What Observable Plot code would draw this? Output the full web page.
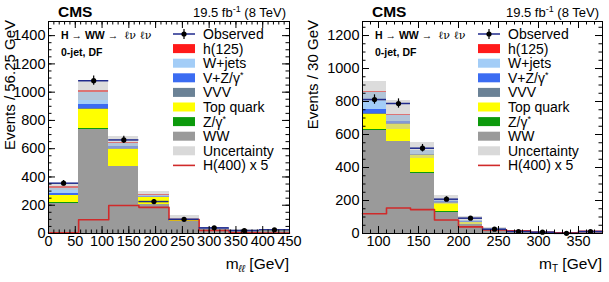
<!DOCTYPE html>
<html><head><meta charset="utf-8">
<script src="https://cdn.jsdelivr.net/npm/d3@7"></script>
<script src="https://cdn.jsdelivr.net/npm/@observablehq/plot@0.6"></script>
<style>
body{margin:0;background:#fff;}
#wrap{position:relative;width:609px;height:282px;overflow:hidden;background:#fff;}
#wrap svg{position:absolute;top:0;}
</style></head><body><div id="wrap"></div>
<script>
// ---------- data ----------
const processes = ["WW", "Z/γ*", "Top quark", "VVV", "V+Z/γ*", "W+jets", "h(125)"]; // stacked bottom -> top
const procColors = ["#9a9a9a", "#0c9a0c", "#ffff00", "#6b8296", "#3b6cf2", "#a3cdf7", "#ff1a1a"];

// left panel: m_ll, 8 bins of 56.25 GeV
const leftBinLo = [0, 56.25, 112.5, 168.75, 225, 281.25, 337.5, 393.75];
const leftBinWidth = 56.25;
const leftWW    = [214, 735, 473, 205, 85, 26, 15, 17];
const leftZ     = [2, 5, 3, 2, 1, 0.5, 0.3, 0.3];
const leftTop   = [50, 134, 116, 45, 12, 4, 2, 2];
const leftVVV   = [5, 8, 6, 3, 1, 0.5, 0.3, 0.3];
const leftVZ    = [14, 30, 15, 7, 3, 1, 1, 1];
const leftWjets = [33, 85, 22, 10, 4, 2, 1.5, 1.5];
const leftH125  = [14, 13, 7, 3, 1, 0.3, 0.2, 0.2];
const leftUnc   = [25, 70, 45, 20, 18, 8, 6, 6];
const leftObs   = [356, 1081, 662, 226, 100, 40, 21, 26];
const leftH400  = [5, 97, 198, 185, 99, 21, 5, 4];

// right panel: m_T, 10 bins of 30 GeV
const rightBinLo = [80, 110, 140, 170, 200, 230, 260, 290, 320, 350];
const rightBinWidth = 30;
const rightWW    = [622, 555, 366, 130, 52, 20, 9, 6, 3, 5];
const rightZ     = [6, 3, 3, 2, 1, 0.5, 0.3, 0.2, 0.1, 0.1];
const rightTop   = [91, 101, 104, 52, 13, 4, 2, 1, 0.5, 1];
const rightVVV   = [8, 5, 3, 2, 1, 0.5, 0.3, 0.2, 0.1, 0.2];
const rightVZ    = [26, 12, 5, 5, 3, 1, 0.5, 0.5, 0.3, 0.5];
const rightWjets = [100, 40, 20, 8, 8, 3, 1.5, 1, 0.5, 1];
const rightH125  = [7, 5, 4, 2, 1, 0.5, 0.2, 0.1, 0.1, 0.1];
const rightUnc   = [60, 88, 48, 28, 25, 8, 5, 4, 3, 4];
const rightObs   = [812, 788, 517, 208, 93, 26, 12, 8, 1, 12];
const rightH400  = [120, 155, 145, 82, 40, 22, 16, 8, 5, 13];

const leftXTicks = [0, 50, 100, 150, 200, 250, 300, 350, 400, 450];
const leftYTicks = [0, 200, 400, 600, 800, 1000, 1200, 1400];
const rightXTicks = [100, 150, 200, 250, 300, 350];
const rightYTicks = [0, 200, 400, 600, 800, 1000, 1200];

const FONT = "'Liberation Sans', Arial, Helvetica, sans-serif";

function panel(cfg) {
  const {binLo, binW, stack, unc, obs, h400, xDomain, yDomain, xTicks, yTicks, width, ml, mr} = cfg;
  const mt = 21, mb = 49, height = 282;
  const H = height - mt - mb, W = width - ml - mr;
  const rects = [];
  binLo.forEach((lo, i) => {
    let base = 0;
    stack.forEach((s, k) => {
      rects.push({x1: lo, x2: lo + binW, y1: base, y2: base + s[i], fill: procColors[k]});
      base += s[i];
    });
  });
  const bins = binLo.map((lo, i) => {
    const tot = stack.reduce((a, s) => a + s[i], 0);
    return {lo, hi: lo + binW, c: lo + binW / 2, tot, unc: unc[i], n: obs[i], h: h400[i]};
  });
  const last = bins[bins.length - 1];
  const step = bins.map(b => ({x: b.lo, y: b.h})).concat([{x: last.hi, y: last.h}]);
  const minorX = d3.range(xDomain[0], xDomain[1] + 1e-6, 10);
  const majorX = minorX.filter(v => v % 50 === 0);
  const minorY = d3.range(yDomain[0], yDomain[1] + 1e-6, 50);
  const majorY = minorY.filter(v => v % 200 === 0);
  const maj = 7, mnr = 3.5;
  const fmt = d3.format("d");
  return Plot.plot({
    width, height, marginLeft: ml, marginRight: mr, marginTop: mt, marginBottom: mb,
    style: {fontFamily: FONT, background: "transparent", overflow: "visible"},
    x: {domain: xDomain},
    y: {domain: yDomain},
    color: {type: "identity"},
    marks: [
      Plot.rect(rects, {x1: "x1", x2: "x2", y1: "y1", y2: "y2", fill: "fill", shapeRendering: "crispEdges"}),
      Plot.rect(bins, {x1: "lo", x2: "hi", y1: d => Math.max(0, d.tot - d.unc), y2: d => d.tot + d.unc, fill: "#c0c0c0", fillOpacity: 0.55, shapeRendering: "crispEdges"}),
      Plot.line(step, {x: "x", y: "y", curve: "step-after", stroke: "#d02a2a", strokeWidth: 1.6}),
      Plot.ruleY(bins, {x1: "lo", x2: "hi", y: "n", stroke: "#1f2a8c", strokeWidth: 1.5}),
      Plot.ruleX(bins, {x: "c", y1: d => Math.max(0, d.n - Math.sqrt(d.n)), y2: d => d.n + Math.sqrt(d.n), stroke: "black", strokeWidth: 1.2}),
      Plot.dot(bins, {x: "c", y: "n", r: 2.6, fill: "black"}),
      Plot.tickX(minorX, {x: d => d, insetTop: H - mnr, stroke: "black"}),
      Plot.tickX(minorX, {x: d => d, insetBottom: H - mnr, stroke: "black"}),
      Plot.tickX(majorX, {x: d => d, insetTop: H - maj, stroke: "black"}),
      Plot.tickX(majorX, {x: d => d, insetBottom: H - maj, stroke: "black"}),
      Plot.tickY(minorY, {y: d => d, insetRight: W - mnr, stroke: "black"}),
      Plot.tickY(minorY, {y: d => d, insetLeft: W - mnr, stroke: "black"}),
      Plot.tickY(majorY, {y: d => d, insetRight: W - maj, stroke: "black"}),
      Plot.tickY(majorY, {y: d => d, insetLeft: W - maj, stroke: "black"}),
      Plot.frame({stroke: "black", strokeWidth: 1}),
      Plot.axisX(xTicks, {tickSize: 0, tickPadding: 2, fontSize: 14.5, tickFormat: fmt, label: null}),
      Plot.axisY(yTicks, {tickSize: 0, tickPadding: 3, fontSize: 14.5, tickFormat: fmt, label: null})
    ]
  });
}

const wrap = document.getElementById("wrap");
const left = panel({
  binLo: leftBinLo, binW: leftBinWidth,
  stack: [leftWW, leftZ, leftTop, leftVVV, leftVZ, leftWjets, leftH125],
  unc: leftUnc, obs: leftObs, h400: leftH400,
  xDomain: [0, 450], yDomain: [0, 1500], xTicks: leftXTicks, yTicks: leftYTicks,
  width: 304, ml: 48, mr: 15
});
left.style.left = "0px";
wrap.appendChild(left);
const right = panel({
  binLo: rightBinLo, binW: rightBinWidth,
  stack: [rightWW, rightZ, rightTop, rightVVV, rightVZ, rightWjets, rightH125],
  unc: rightUnc, obs: rightObs, h400: rightH400,
  xDomain: [80, 380], yDomain: [0, 1285], xTicks: rightXTicks, yTicks: rightYTicks,
  width: 305, ml: 58, mr: 7
});
right.style.left = "304px";
wrap.appendChild(right);

// ---------- annotations & legends ----------
const ov = d3.select(wrap).append("svg").attr("width", 609).attr("height", 282)
  .style("left", "0px").style("pointer-events", "none")
  .attr("font-family", FONT);

function annotate(o) {
  const g = ov.append("g");
  g.append("text").attr("x", o.frameL + 10).attr("y", 17).attr("font-size", 15.5).attr("font-weight", "bold").text("CMS");
  const lum = g.append("text").attr("x", o.frameR - 3).attr("y", 17).attr("font-size", 13).attr("text-anchor", "end");
  lum.append("tspan").text("19.5 fb");
  lum.append("tspan").attr("font-size", 9).attr("dy", -5).text("-1");
  lum.append("tspan").attr("dy", 5).text(" (8 TeV)");
  const ch = g.append("text").attr("x", o.frameL + 13).attr("y", 39).attr("font-size", 10.5);
  ch.append("tspan").attr("font-weight", "bold").text("H → WW → ");
  ch.append("tspan").attr("font-family", "'DejaVu Serif', serif").attr("font-size", 11).attr("dx", 3).text("ℓν ℓν");
  g.append("text").attr("x", o.frameL + 13).attr("y", 56).attr("font-size", 10.5).attr("font-weight", "bold").text("0-jet, DF");
  g.append("text").attr("transform", `translate(${o.ylabX},20) rotate(-90)`).attr("text-anchor", "end")
    .attr("font-size", 15).text(o.ylab);
  const xl = g.append("text").attr("x", o.frameR).attr("y", 269).attr("text-anchor", "end").attr("font-size", 15.5);
  xl.append("tspan").text("m");
  xl.append("tspan").attr("font-size", 10).attr("dy", 3).attr("font-style", o.xsubItalic ? "italic" : "normal").text(o.xsub);
  xl.append("tspan").attr("dy", -3).text(o.xsubItalic ? "  [GeV]" : " [GeV]");
  const sx = o.legX, tx = o.legX + 30;
  const ys = d3.range(10).map(i => 34 + 14.6 * i);
  g.append("line").attr("x1", sx).attr("x2", sx + 22).attr("y1", ys[0]).attr("y2", ys[0]).attr("stroke", "#1f2a8c").attr("stroke-width", 1.5);
  g.append("line").attr("x1", sx + 11).attr("x2", sx + 11).attr("y1", ys[0] - 5).attr("y2", ys[0] + 5).attr("stroke", "black").attr("stroke-width", 1.2);
  g.append("circle").attr("cx", sx + 11).attr("cy", ys[0]).attr("r", 2.6).attr("fill", "black");
  const entries = processes.map((p, k) => ({label: p, color: procColors[k]})).reverse();
  entries.forEach((e, i) => {
    g.append("rect").attr("x", sx).attr("y", ys[i + 1] - 4.5).attr("width", 22).attr("height", 9).attr("fill", e.color);
  });
  g.append("rect").attr("x", sx).attr("y", ys[8] - 4.5).attr("width", 22).attr("height", 9).attr("fill", "#d9d9d9");
  g.append("line").attr("x1", sx).attr("x2", sx + 22).attr("y1", ys[9]).attr("y2", ys[9]).attr("stroke", "#d02a2a").attr("stroke-width", 1.6);
  const labels = ["Observed"].concat(entries.map(e => e.label)).concat(["Uncertainty", "H(400) x 5"]);
  labels.forEach((l, i) => {
    const t = g.append("text").attr("x", tx).attr("y", ys[i] + 5).attr("font-size", 14);
    if (l.endsWith("γ*")) {
      t.append("tspan").text(l.slice(0, -1));
      t.append("tspan").attr("font-size", 9).attr("dy", -5).text("*");
    } else {
      t.text(l);
    }
  });
}
annotate({frameL: 48, frameR: 289, ylabX: 15, ylab: "Events / 56.25 GeV", xsub: "ℓℓ", xsubItalic: true, legX: 173});
annotate({frameL: 362, frameR: 602, ylabX: 318, ylab: "Events / 30 GeV", xsub: "T", xsubItalic: false, legX: 478});
</script></body></html>
